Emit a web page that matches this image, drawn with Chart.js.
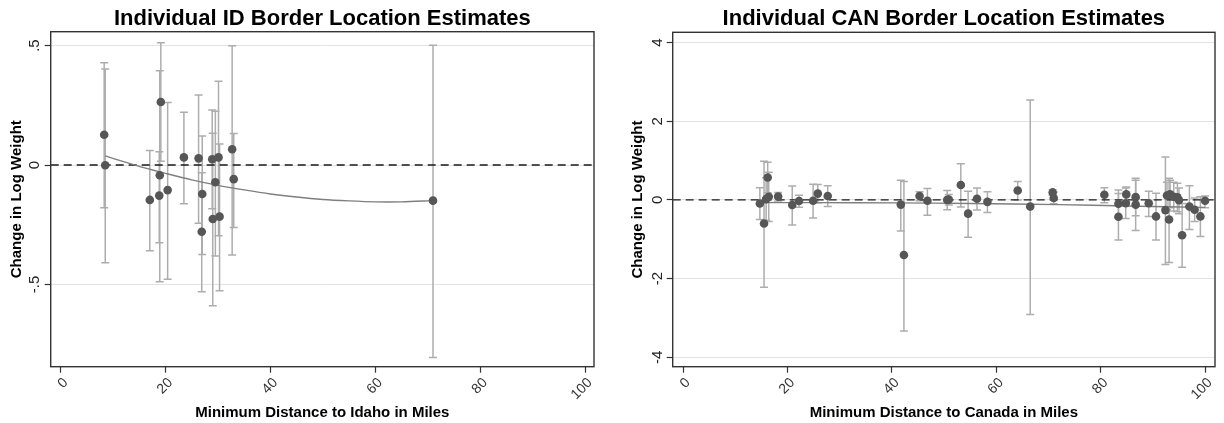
<!DOCTYPE html>
<html lang="en">
<head>
<meta charset="UTF-8">
<title>Individual Border Location Estimates</title>
<script src="https://cdn.jsdelivr.net/npm/chart.js"></script>
<style>
  body { margin: 0; background: #fff; }
  .charts { display: flex; width: 1224px; height: 423px; }
  canvas { display: block; }
</style>
</head>
<body>
<div class="charts">
  <canvas id="id-chart" width="612" height="423"></canvas>
  <canvas id="can-chart" width="612" height="423"></canvas>
</div>
<script>
  const FONT = '"Liberation Sans", Arial, Helvetica, sans-serif';
  const xTicks = [0, 20, 40, 60, 80, 100];

  // Idaho border: distance, point estimate, 95% CI ends
  const idDist = [8.3, 8.5, 17.0, 18.8, 18.9, 19.1, 20.4, 23.5, 26.3, 26.9, 27.0, 28.9, 29.0, 29.5, 30.1, 30.3, 32.7, 33.0, 71.0];
  const idEst  = [0.127, -0.001, -0.146, -0.128, -0.043, 0.264, -0.105, 0.032, 0.028, -0.279, -0.121, 0.024, -0.226, -0.072, 0.032, -0.216, 0.066, -0.059, -0.149];
  const idLow  = [-0.179, -0.409, -0.359, -0.325, -0.488, 0.016, -0.478, -0.162, -0.244, -0.530, -0.374, -0.183, -0.589, -0.381, -0.296, -0.526, -0.377, -0.261, -0.806];
  const idHigh = [0.428, 0.402, 0.061, 0.056, 0.395, 0.512, 0.262, 0.221, 0.293, -0.032, 0.121, 0.230, 0.133, 0.225, 0.351, 0.088, 0.499, 0.132, 0.501];
  const idFitX = [8.5, 12, 16, 20, 25, 30, 35, 40, 45, 50, 55, 60, 65, 71];
  const idFitY = [0.038, 0.014, -0.012, -0.035, -0.062, -0.085, -0.104, -0.121, -0.134, -0.144, -0.150, -0.154, -0.154, -0.149];
  const idYTicks = [-0.5, 0, 0.5];

  // Canada border
  const canDist = [14.7, 15.5, 16.2, 15.9, 16.4, 18.2, 20.9, 22.2, 24.9, 25.8, 27.7, 41.7, 42.3, 45.3, 46.8, 50.6, 50.9, 53.2, 54.6, 56.3, 58.3, 64.1, 66.5, 70.8, 71.0,
                   80.7, 83.4, 83.4, 84.9, 84.8, 86.7, 86.7, 89.2, 90.6, 92.4, 93.1, 92.7, 93.3, 94.0, 94.7, 95.0, 95.6, 97.0, 98.0, 99.1, 100.0];
  const canEst  = [-0.09, -0.60, 0.57, 0.02, 0.08, 0.085, -0.13, -0.03, -0.02, 0.16, 0.10, -0.12, -1.40, 0.10, -0.02, 0.00, 0.01, 0.38, -0.35, 0.03, -0.05, 0.24, -0.17, 0.19, 0.05,
                   0.13, -0.10, -0.43, 0.14, -0.085, 0.07, -0.12, -0.085, -0.42, -0.26, -0.50, 0.11, 0.14, 0.08, 0.065, -0.01, -0.90, -0.17, -0.25, -0.42, -0.02];
  const canLow  = [-0.50, -2.22, 0.18, -0.52, -0.55, -0.03, -0.64, -0.19, -0.46, -0.07, -0.17, -0.79, -3.33, -0.02, -0.39, -0.25, -0.13, -0.18, -0.95, -0.26, -0.32, 0.00, -2.91, 0.12, -0.10,
                   -0.07, -0.45, -1.02, -0.05, -0.47, -0.40, -0.78, -0.42, -1.02, -1.64, -1.59, -0.25, -0.20, -0.28, -0.30, -0.35, -1.71, -0.75, -0.55, -0.93, -0.20];
  const canHigh = [0.31, 0.98, 0.96, 0.56, 0.70, 0.19, 0.35, 0.12, 0.40, 0.39, 0.36, 0.50, 0.47, 0.21, 0.29, 0.24, 0.14, 0.92, 0.22, 0.30, 0.21, 0.47, 2.54, 0.26, 0.20,
                   0.31, 0.25, 0.16, 0.33, 0.30, 0.55, 0.50, 0.22, 0.17, 1.09, 0.55, 0.45, 0.50, 0.45, 0.42, 0.30, -0.09, 0.36, 0.05, 0.08, 0.10];
  const canFitX = [14.7, 25, 41, 55, 72, 85, 100];
  const canFitY = [-0.068, -0.069, -0.076, -0.09, -0.12, -0.155, -0.19];
  const canYTicks = [-4, -2, 0, 2, 4];

  // whiskers + dashed zero line under the points, box frame on top
  function errorBarPlugin(xs, lo, hi) {
    return {
      id: 'errorBars',
      beforeDatasetsDraw(chart) {
        const { ctx, chartArea: a, scales: { x, y } } = chart;
        ctx.save();
        ctx.beginPath();
        ctx.rect(a.left, a.top, a.right - a.left, a.bottom - a.top);
        ctx.clip();
        ctx.strokeStyle = '#adadad';
        ctx.lineWidth = 1.5;
        xs.forEach((d, i) => {
          const px = x.getPixelForValue(d);
          const p1 = y.getPixelForValue(lo[i]);
          const p2 = y.getPixelForValue(hi[i]);
          ctx.beginPath();
          ctx.moveTo(px, p1); ctx.lineTo(px, p2);
          ctx.moveTo(px - 4, p1); ctx.lineTo(px + 4, p1);
          ctx.moveTo(px - 4, p2); ctx.lineTo(px + 4, p2);
          ctx.stroke();
        });
        const y0 = y.getPixelForValue(0);
        ctx.setLineDash([8, 5]);
        ctx.lineWidth = 1.4;
        ctx.strokeStyle = '#1a1a1a';
        ctx.beginPath();
        ctx.moveTo(a.left, y0); ctx.lineTo(a.right, y0);
        ctx.stroke();
        ctx.restore();
      },
      afterDraw(chart) {
        const { ctx, chartArea: a } = chart;
        ctx.save();
        ctx.strokeStyle = '#333';
        ctx.lineWidth = 1.4;
        ctx.strokeRect(a.left, a.top, a.right - a.left, a.bottom - a.top);
        ctx.restore();
      }
    };
  }

  function fmtY(v) {
    return String(v).replace('0.', '.');
  }

  function makeChart(id, c) {
    new Chart(document.getElementById(id), {
      type: 'scatter',
      data: {
        datasets: [
          {
            data: c.dist.map((d, i) => ({ x: d, y: c.est[i] })),
            pointRadius: 4.3,
            pointHoverRadius: 4.3,
            backgroundColor: '#565656',
            borderWidth: 0
          },
          {
            data: c.fitX.map((d, i) => ({ x: d, y: c.fitY[i] })),
            showLine: true,
            pointRadius: 0,
            borderColor: '#7f7f7f',
            borderWidth: 1.4,
            tension: 0.3
          }
        ]
      },
      options: {
        responsive: false,
        animation: false,
        devicePixelRatio: 1,
        events: [],
        layout: { padding: { left: 0, right: c.padRight, top: 0, bottom: 0 } },
        plugins: {
          legend: { display: false },
          tooltip: { enabled: false },
          title: {
            display: true,
            fullSize: false,
            text: c.title,
            color: '#000',
            font: { family: FONT, size: 22, weight: 'bold', lineHeight: 1 },
            padding: { top: 8, bottom: c.titleBottom }
          }
        },
        scales: {
          x: {
            type: 'linear',
            min: c.xMin,
            max: c.xMax,
            afterBuildTicks: s => { s.ticks = xTicks.map(v => ({ value: v })); },
            afterFit: s => { s.height = 56.3; s.paddingLeft = 0; s.paddingRight = 0; },
            ticks: {
              autoSkip: false, minRotation: 45, maxRotation: 45, padding: 2, labelOffset: 5,
              color: '#333', font: { family: FONT, size: 14 }
            },
            grid: { drawOnChartArea: false, drawTicks: true, tickLength: 6, tickColor: '#333', tickWidth: 1.2 },
            border: { display: false },
            title: {
              display: true, text: c.xTitle, color: '#000',
              font: { family: FONT, size: 15, weight: 'bold', lineHeight: 1.2 },
              padding: { top: 0, bottom: 1 }
            }
          },
          y: {
            type: 'linear',
            min: c.yMin,
            max: c.yMax,
            afterBuildTicks: s => { s.ticks = c.yTicks.map(v => ({ value: v })); },
            afterFit: s => { s.width = c.yWidth; s.paddingTop = 0; s.paddingBottom = 0; },
            ticks: {
              minRotation: 90, maxRotation: 90, crossAlign: 'center', padding: c.yPad,
              color: '#222', font: { family: FONT, size: 15 }, callback: v => fmtY(v)
            },
            grid: { color: '#e3e3e3', lineWidth: 1, drawTicks: true, tickLength: 6, tickColor: '#333', tickWidth: 1.2 },
            border: { display: false },
            title: {
              display: true, text: 'Change in Log Weight', color: '#000',
              font: { family: FONT, size: 15, weight: 'bold', lineHeight: 1.2 },
              padding: { top: c.yTitlePad, bottom: 0 }
            }
          }
        }
      },
      plugins: [errorBarPlugin(c.dist, c.low, c.high)]
    });
  }

  makeChart('id-chart', {
    title: 'Individual ID Border Location Estimates',
    xTitle: 'Minimum Distance to Idaho in Miles',
    dist: idDist, est: idEst, low: idLow, high: idHigh,
    fitX: idFitX, fitY: idFitY, yTicks: idYTicks,
    xMin: -1.9, xMax: 101.7, yMin: -0.844, yMax: 0.558,
    padRight: 18, titleBottom: 1.7, yWidth: 50.7, yPad: 1, yTitlePad: 7.5
  });

  makeChart('can-chart', {
    title: 'Individual CAN Border Location Estimates',
    xTitle: 'Minimum Distance to Canada in Miles',
    dist: canDist, est: canEst, low: canLow, high: canHigh,
    fitX: canFitX, fitY: canFitY, yTicks: canYTicks,
    xMin: -2.0, xMax: 101.9, yMin: -4.24, yMax: 4.26,
    padRight: 9, titleBottom: 2.3, yWidth: 60.7, yPad: 2.5, yTitlePad: 16.5
  });
</script>
</body>
</html>
